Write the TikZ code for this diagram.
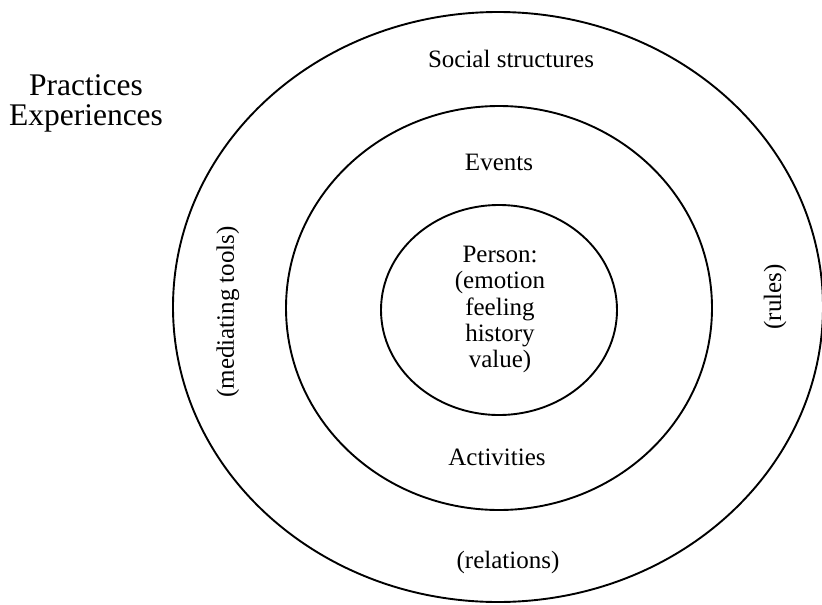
\documentclass[tikz,border=0pt]{standalone}
\usepackage{fontspec}
\setmainfont{Liberation Serif}
\begin{document}
\begin{tikzpicture}[x=1pt, y=-1pt, line width=1.9pt,
  lbl/.style={font=\fontsize{25}{26.25}\selectfont, inner sep=0pt},
  big/.style={font=\fontsize{31.5}{30}\selectfont, inner sep=0pt, align=center}]
\useasboundingbox (0,0) rectangle (822,605);
\draw (498,307) ellipse [x radius=325, y radius=295];
\draw (499,308) ellipse [x radius=213, y radius=202];
\draw (499,310) ellipse [x radius=118, y radius=105];
\node[big] (practices) at (86,103) {Practices\\Experiences};
\node[lbl, anchor=base] (social) at (511,67) {Social structures};
\node[lbl, anchor=base] (events) at (499,170) {Events};
\node[lbl, align=center] (person) at (500,309.5) {Person:\\(emotion\\feeling\\history\\value)};
\node[lbl, anchor=base] (activities) at (497,465) {Activities};
\node[lbl, anchor=base] (relations) at (508,568) {(relations)};
\node[lbl, rotate=90] (tools) at (228,312) {(mediating tools)};
\node[lbl, rotate=90] (rules) at (775,297) {(rules)};
\end{tikzpicture}
\end{document}
